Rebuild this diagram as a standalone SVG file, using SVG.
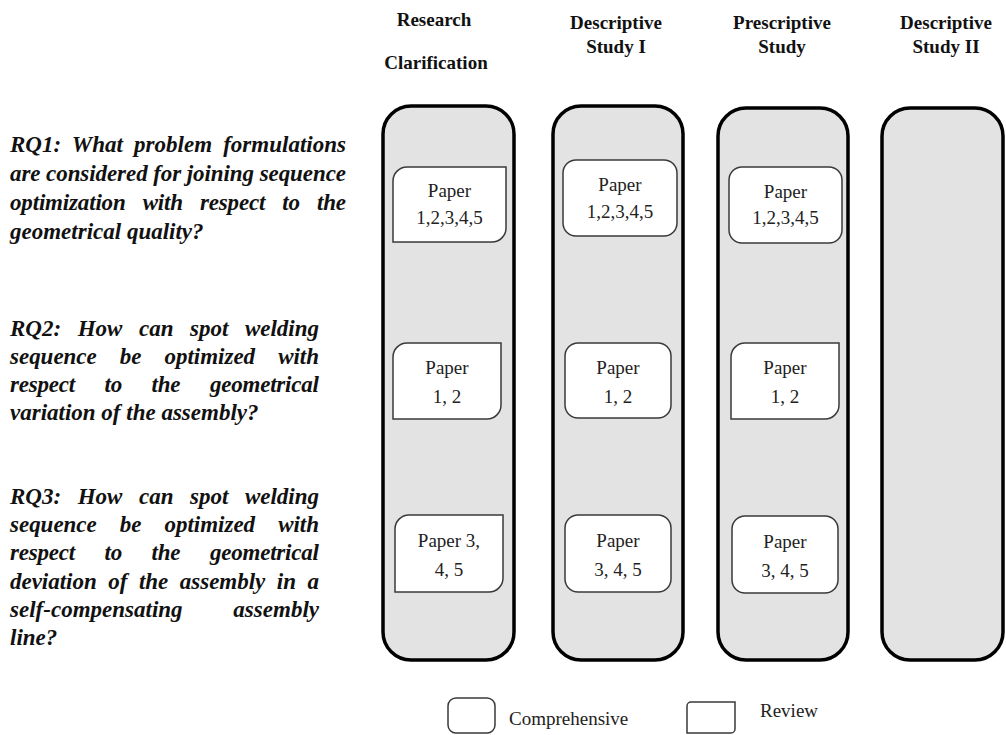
<svg xmlns="http://www.w3.org/2000/svg" width="1006" height="735" viewBox="0 0 1006 735">
<style>
.col{fill:#e3e3e3;stroke:#000;stroke-width:3.5}
.box{fill:#fff;stroke:#3a3a3a;stroke-width:1.5}
.hd{font-family:"Liberation Serif",serif;font-weight:bold;font-size:19px;fill:#111;text-anchor:middle}
.rq{font-family:"Liberation Serif",serif;font-weight:bold;font-style:italic;font-size:23px;fill:#111}
.pt{font-family:"Liberation Serif",serif;font-size:19px;fill:#222;text-anchor:middle}
.lg{font-family:"Liberation Serif",serif;font-size:19px;fill:#222}
</style>
<rect width="1006" height="735" fill="#fff"/>
<g id="headers">
<text class="hd" x="434" y="26">Research</text>
<text class="hd" x="436" y="69">Clarification</text>
<text class="hd" x="616" y="29">Descriptive</text>
<text class="hd" x="616" y="53">Study I</text>
<text class="hd" x="782" y="29">Prescriptive</text>
<text class="hd" x="782" y="53">Study</text>
<text class="hd" x="946" y="29">Descriptive</text>
<text class="hd" x="946" y="53">Study II</text>
</g>
<g id="questions">
<text class="rq" x="10" y="152" textLength="336" lengthAdjust="spacing" word-spacing="5.3">RQ1: What problem formulations</text>
<text class="rq" x="10" y="181" textLength="336" lengthAdjust="spacing">are considered for joining sequence</text>
<text class="rq" x="10" y="210" textLength="336" lengthAdjust="spacing" word-spacing="11.5">optimization with respect to the</text>
<text class="rq" x="10" y="239">geometrical quality?</text>
<text class="rq" x="10" y="336" textLength="309" lengthAdjust="spacing" word-spacing="10.8">RQ2: How can spot welding</text>
<text class="rq" x="10" y="364" textLength="309" lengthAdjust="spacing" word-spacing="17.3">sequence be optimized with</text>
<text class="rq" x="10" y="392" textLength="309" lengthAdjust="spacing" word-spacing="24">respect to the geometrical</text>
<text class="rq" x="10" y="420">variation of the assembly?</text>
<text class="rq" x="10" y="504" textLength="309" lengthAdjust="spacing" word-spacing="10.8">RQ3: How can spot welding</text>
<text class="rq" x="10" y="532" textLength="309" lengthAdjust="spacing" word-spacing="17.3">sequence be optimized with</text>
<text class="rq" x="10" y="560" textLength="309" lengthAdjust="spacing" word-spacing="24">respect to the geometrical</text>
<text class="rq" x="10" y="589" textLength="309" lengthAdjust="spacing" word-spacing="5.8">deviation of the assembly in a</text>
<text class="rq" x="10" y="617" textLength="309" lengthAdjust="spacing" word-spacing="45">self-compensating assembly</text>
<text class="rq" x="10" y="645">line?</text>
</g>
<g id="col-research-clarification">
<rect class="col" x="383" y="106" width="131" height="554" rx="28"/>
<g id="rc-paper-1">
<path class="box" d="M407 167H506V228A14 14 0 0 1 492 242H393V181A14 14 0 0 1 407 167Z"/>
<text class="pt" x="449.5" y="197">Paper</text>
<text class="pt" x="449.5" y="224">1,2,3,4,5</text>
</g>
<g id="rc-paper-2">
<path class="box" d="M407 343H501V405A14 14 0 0 1 487 419H393V357A14 14 0 0 1 407 343Z"/>
<text class="pt" x="447" y="374">Paper</text>
<text class="pt" x="447" y="403">1, 2</text>
</g>
<g id="rc-paper-3">
<path class="box" d="M409 515H503V578A14 14 0 0 1 489 592H395V529A14 14 0 0 1 409 515Z"/>
<text class="pt" x="449" y="547">Paper 3,</text>
<text class="pt" x="449" y="576">4, 5</text>
</g>
</g>
<g id="col-descriptive-study-1">
<rect class="col" x="553" y="106" width="130" height="554" rx="28"/>
<g id="ds1-paper-1">
<rect class="box" x="563" y="160" width="114" height="76" rx="13"/>
<text class="pt" x="620" y="191">Paper</text>
<text class="pt" x="620" y="218">1,2,3,4,5</text>
</g>
<g id="ds1-paper-2">
<rect class="box" x="565" y="343" width="106" height="75" rx="13"/>
<text class="pt" x="618" y="374">Paper</text>
<text class="pt" x="618" y="403">1, 2</text>
</g>
<g id="ds1-paper-3">
<rect class="box" x="565" y="515" width="106" height="77" rx="13"/>
<text class="pt" x="618" y="547">Paper</text>
<text class="pt" x="618" y="576">3, 4, 5</text>
</g>
</g>
<g id="col-prescriptive-study">
<rect class="col" x="718" y="108" width="130" height="552" rx="28"/>
<g id="ps-paper-1">
<rect class="box" x="729" y="167" width="113" height="76" rx="13"/>
<text class="pt" x="785.5" y="198">Paper</text>
<text class="pt" x="785.5" y="224">1,2,3,4,5</text>
</g>
<g id="ps-paper-2">
<path class="box" d="M745 343H839V405A14 14 0 0 1 825 419H731V357A14 14 0 0 1 745 343Z"/>
<text class="pt" x="785" y="374">Paper</text>
<text class="pt" x="785" y="403">1, 2</text>
</g>
<g id="ps-paper-3">
<rect class="box" x="732" y="516" width="106" height="77" rx="13"/>
<text class="pt" x="785" y="548">Paper</text>
<text class="pt" x="785" y="577">3, 4, 5</text>
</g>
</g>
<g id="col-descriptive-study-2">
<rect class="col" x="882" y="108" width="121" height="552" rx="28"/>
</g>
<g id="connectors"></g>
<g id="legend">
<rect class="box" x="448" y="698" width="47" height="35" rx="8"/>
<text class="lg" x="509" y="725">Comprehensive</text>
<path class="box" d="M691 702H735V729A4 4 0 0 1 731 733H687V706A4 4 0 0 1 691 702Z"/>
<text class="lg" x="760" y="717">Review</text>
</g>
</svg>
